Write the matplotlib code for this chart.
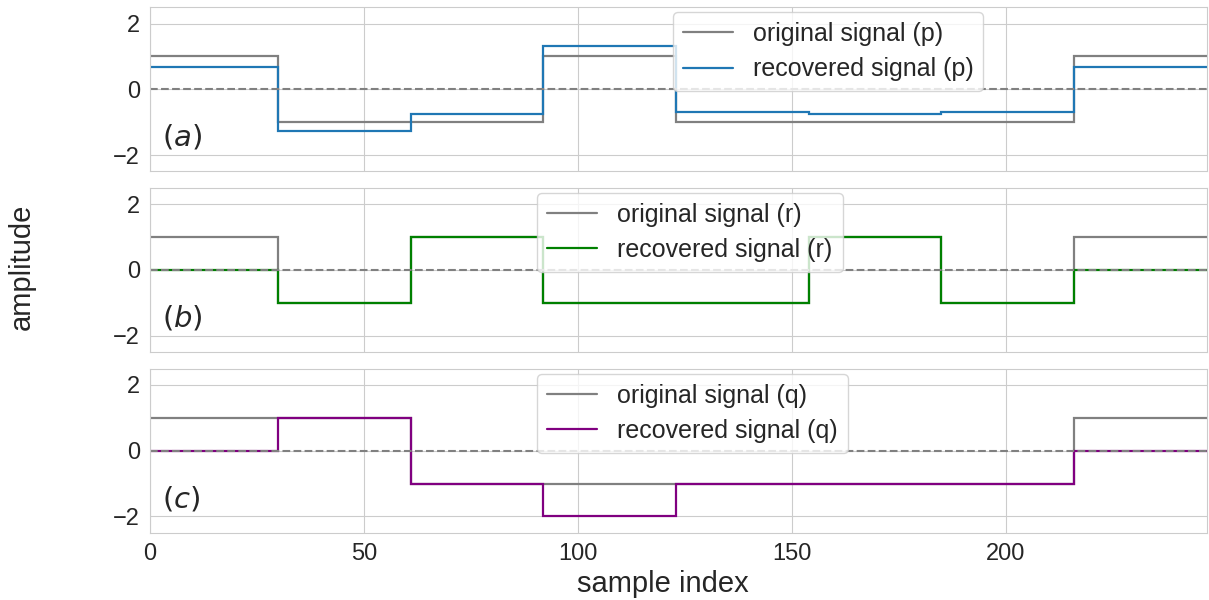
import numpy as np
import seaborn as sns
from matplotlib import pyplot as plt

sns.set_style("whitegrid")
plt.rcParams['font.family'] = ['Liberation Sans', 'DejaVu Sans']

# segment boundaries (sample index) and per-segment levels
edges = [0, 30, 61, 92, 123, 154, 185, 216, 247]

orig_p = [1, -1, -1, 1, -1, -1, -1, 1]
rec_p = [0.68, -1.27, -0.745, 1.32, -0.68, -0.745, -0.68, 0.68]

orig_r = [1, -1, 1, -1, -1, 1, -1, 1]
rec_r = [0, -1, 1, -1, -1, 1, -1, 0]

orig_q = [1, 1, -1, -1, -1, -1, -1, 1]
rec_q = [0, 1, -1, -2, -1, -1, -1, 0]

panels = [
    ("p", orig_p, rec_p, "#1f77b4", "$(a)$", 0.49),
    ("r", orig_r, rec_r, "green", "$(b)$", 0.362),
    ("q", orig_q, rec_q, "purple", "$(c)$", 0.362),
]

fig, axes = plt.subplots(3, 1, sharex=True, figsize=(12.09, 6), dpi=100)
fig.subplots_adjust(left=0.124, right=0.998, top=0.988, bottom=0.112, hspace=0.1)

for ax, (name, orig, rec, col, lab, lx) in zip(axes, panels):
    ax.stairs(orig, edges, baseline=None, color="gray", lw=1.6,
              label="original signal (%s)" % name)
    ax.stairs(rec, edges, baseline=None, color=col, lw=1.6,
              label="recovered signal (%s)" % name)
    ax.axhline(0, color="gray", ls="--", lw=1.5)
    ax.set_ylim(-2.5, 2.5)
    ax.set_yticks([-2, 0, 2])
    ax.set_xlim(0, 247)
    ax.tick_params(labelsize=17)
    ax.text(0.011, 0.155, lab, transform=ax.transAxes, fontsize=21)
    ax.legend(loc="upper left", bbox_to_anchor=(lx, 1.0), fontsize=18,
              borderaxespad=0.2, labelspacing=0.45)

axes[-1].set_xticks([0, 50, 100, 150, 200])
fig.text(0.548, 0.027, "sample index", ha="center", va="center", fontsize=21)
fig.text(0.018, 0.555, "amplitude", ha="center", va="center", rotation=90, fontsize=21)

plt.savefig("out.png")
